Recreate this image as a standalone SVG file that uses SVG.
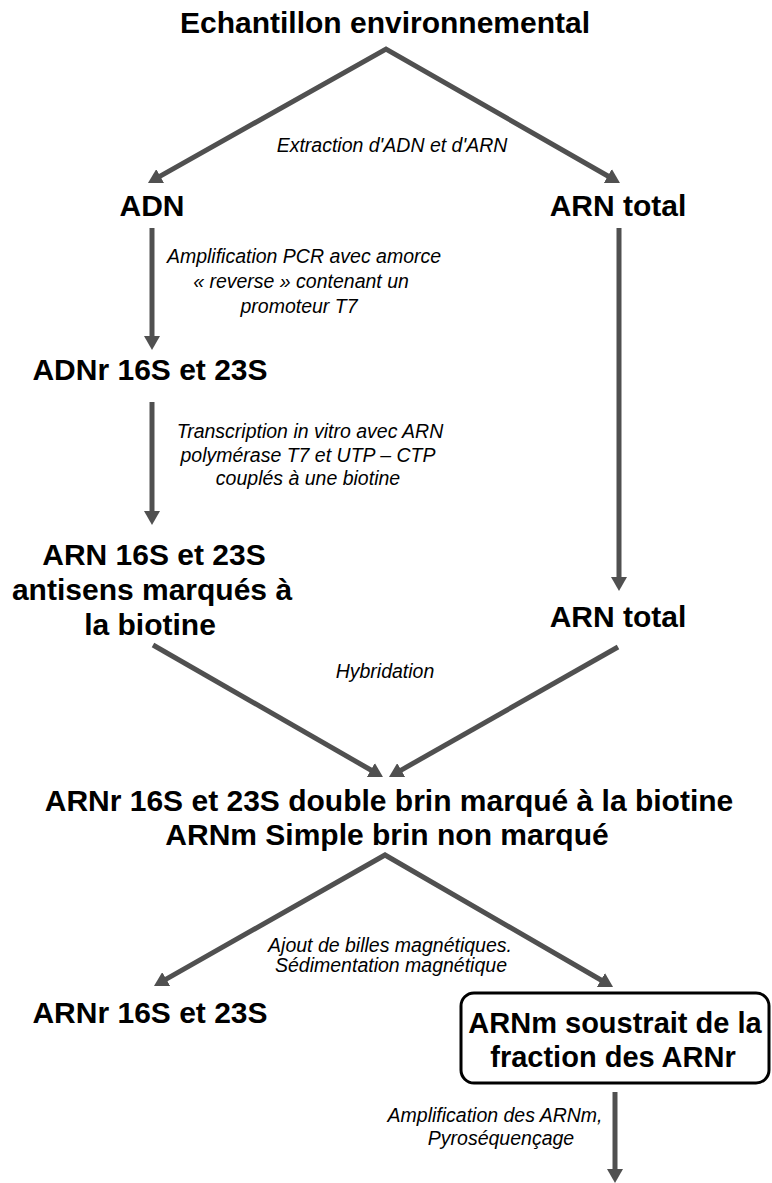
<svg xmlns="http://www.w3.org/2000/svg" width="772" height="1183" viewBox="0 0 772 1183">
  <style>
    .node { font-family: "Liberation Sans", Arial, sans-serif; font-weight: bold; font-size: 30px; fill: #000; text-anchor: middle; }
    .boxed { font-size: 29px; }
    .step { font-family: "Liberation Sans", Arial, sans-serif; font-style: italic; font-size: 19.5px; fill: #000; text-anchor: middle; }
    .link { fill: none; stroke: #505050; stroke-width: 5; stroke-linejoin: miter; }
    .box { fill: #fff; stroke: #000; stroke-width: 3; }
  </style>
  <defs>
    <marker id="head" viewBox="0 0 14 16" refX="1" refY="8" markerWidth="14" markerHeight="16" markerUnits="userSpaceOnUse" orient="auto-start-reverse">
      <path d="M0,0 L14,8 L0,16 z" fill="#505050"/>
    </marker>
  </defs>

  <rect width="772" height="1183" fill="#fff"/>

  <!-- connectors -->
  <g id="connectors">
    <path class="link" d="M159.3,176.6 L386,49 L608.7,176.5" marker-start="url(#head)" marker-end="url(#head)"/>
    <path class="link" d="M152,228 L152,337" marker-end="url(#head)"/>
    <path class="link" d="M152,402 L152,512" marker-end="url(#head)"/>
    <path class="link" d="M619,228 L619,578" marker-end="url(#head)"/>
    <path class="link" d="M153,645 L371.7,770.5" marker-end="url(#head)"/>
    <path class="link" d="M618,647 L400.3,770.6" marker-end="url(#head)"/>
    <path class="link" d="M165.3,979.6 L385,855 L601.8,980.5" marker-start="url(#head)" marker-end="url(#head)"/>
    <path class="link" d="M615,1092 L615,1170" marker-end="url(#head)"/>
  </g>

  <!-- step labels -->
  <g id="labels">
    <text class="step" x="392" y="152">Extraction d'ADN et d'ARN</text>
    <text class="step" x="304" y="263">Amplification PCR avec amorce</text>
    <text class="step" x="301" y="288">« reverse » contenant un</text>
    <text class="step" x="299" y="313">promoteur T7</text>
    <text class="step" x="310" y="438">Transcription in vitro avec ARN</text>
    <text class="step" x="308" y="462">polymérase T7 et UTP – CTP</text>
    <text class="step" x="308" y="485">couplés à une biotine</text>
    <text class="step" x="385" y="678">Hybridation</text>
    <text class="step" x="390" y="952">Ajout de billes magnétiques.</text>
    <text class="step" x="391" y="972">Sédimentation magnétique</text>
    <text class="step" x="495" y="1122">Amplification des ARNm,</text>
    <text class="step" x="501" y="1145">Pyroséquençage</text>
  </g>

  <!-- nodes -->
  <g id="sample">
    <text class="node" x="385" y="33">Echantillon environnemental</text>
  </g>
  <g id="adn">
    <text class="node" x="152" y="216">ADN</text>
  </g>
  <g id="arn-total">
    <text class="node" x="618" y="216">ARN total</text>
  </g>
  <g id="adnr">
    <text class="node" x="150" y="380">ADNr 16S et 23S</text>
  </g>
  <g id="arn-antisens">
    <text class="node" x="154" y="565">ARN 16S et 23S</text>
    <text class="node" x="152" y="600">antisens marqués à</text>
    <text class="node" x="150" y="635">la biotine</text>
  </g>
  <g id="arn-total-2">
    <text class="node" x="618" y="627">ARN total</text>
  </g>
  <g id="hybrid">
    <text class="node" x="389" y="811">ARNr 16S et 23S double brin marqué à la biotine</text>
    <text class="node" x="387" y="845">ARNm Simple brin non marqué</text>
  </g>
  <g id="arnr">
    <text class="node" x="150" y="1023">ARNr 16S et 23S</text>
  </g>
  <g id="arnm">
    <rect class="box" x="461" y="993" width="308" height="90" rx="13"/>
    <text class="node boxed" x="615" y="1033">ARNm soustrait de la</text>
    <text class="node boxed" x="613" y="1067">fraction des ARNr</text>
  </g>
</svg>
